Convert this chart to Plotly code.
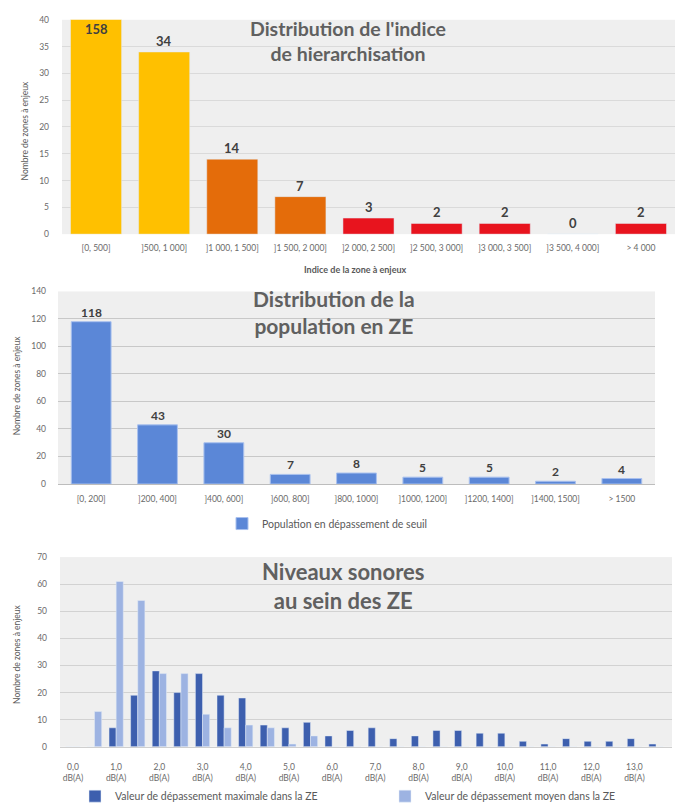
import plotly.graph_objects as go

# ---------------- data ----------------
idx_categories = ["[0, 500]", "]500, 1 000]", "]1 000, 1 500]", "]1 500, 2 000]",
                  "]2 000, 2 500]", "]2 500, 3 000]", "]3 000, 3 500]", "]3 500, 4 000]", "> 4 000"]
idx_values = [158, 34, 14, 7, 3, 2, 2, 0, 2]

pop_categories = ["[0, 200]", "]200, 400]", "]400, 600]", "]600, 800]", "]800, 1000]",
                  "]1000, 1200]", "]1200, 1400]", "]1400, 1500]", "> 1500"]
pop_values = [118, 43, 30, 7, 8, 5, 5, 2, 4]

db_levels = [0.0, 0.5, 1.0, 1.5, 2.0, 2.5, 3.0, 3.5, 4.0, 4.5, 5.0, 5.5, 6.0, 6.5,
             7.0, 7.5, 8.0, 8.5, 9.0, 9.5, 10.0, 10.5, 11.0, 11.5, 12.0, 12.5, 13.0, 13.5]
db_max = [0, 0, 7, 19, 28, 20, 27, 19, 18, 8, 7, 9, 4, 6,
          7, 3, 4, 6, 6, 5, 5, 2, 1, 3, 2, 2, 3, 1]
db_moy = [0, 13, 61, 54, 27, 27, 12, 7, 8, 7, 1, 4, 0, 0,
          0, 0, 0, 0, 0, 0, 0, 0, 0, 0, 0, 0, 0, 0]
db_tick_values = [0, 1, 2, 3, 4, 5, 6, 7, 8, 9, 10, 11, 12, 13]
db_tick_labels = ["0,0<br>dB(A)", "1,0<br>dB(A)", "2,0<br>dB(A)", "3,0<br>dB(A)", "4,0<br>dB(A)",
                  "5,0<br>dB(A)", "6,0<br>dB(A)", "7,0<br>dB(A)", "8,0<br>dB(A)", "9,0<br>dB(A)",
                  "10,0<br>dB(A)", "11,0<br>dB(A)", "12,0<br>dB(A)", "13,0<br>dB(A)"]

# ---------------- styling ----------------
W, H = 675, 812
FONT = "Lato, 'Open Sans', sans-serif"
TICK = dict(family=FONT, size=8.5, color="#6a6a6a")


def px(x):
    return x / W


def py(y):
    return 1 - y / H


idx_colors = ["#FFC000", "#FFC000", "#E46C0A", "#E46C0A", "#E8141E",
              "#E8141E", "#E8141E", "#E8141E", "#E8141E"]

fig = go.Figure()

fig.add_trace(go.Bar(x=idx_categories, y=idx_values, marker_color=idx_colors,
                     width=0.75, offset=-0.375, showlegend=False,
                     xaxis="x", yaxis="y"))
fig.add_trace(go.Bar(x=pop_categories, y=pop_values, marker_color="#5B87D7",
                     marker_line=dict(color="#A9C1EE", width=1),
                     width=0.6, offset=-0.3, name="Population en dépassement de seuil",
                     legend="legend", xaxis="x2", yaxis="y2"))
fig.add_trace(go.Bar(x=db_levels, y=db_max, marker_color="#3D5FAE",
                     width=0.165, offset=-0.165,
                     name="Valeur de dépassement maximale dans la ZE",
                     legend="legend2", xaxis="x3", yaxis="y3"))
fig.add_trace(go.Bar(x=db_levels, y=db_moy, marker_color="#9DB3E2",
                     width=0.165, offset=0.0,
                     name="Valeur de dépassement moyen dans la ZE",
                     legend="legend3", xaxis="x3", yaxis="y3"))

annotations = []
IDX_MAX = 40
LBL1 = dict(family=FONT, size=13, color="#404040", weight="bold")
for c, v in zip(idx_categories, idx_values):
    if v > IDX_MAX:
        annotations.append(dict(x=c, y=IDX_MAX, xref="x", yref="y", text=str(v), showarrow=False,
                                yanchor="top", yshift=1, font=LBL1))
    else:
        annotations.append(dict(x=c, y=v, xref="x", yref="y", text=str(v), showarrow=False,
                                yanchor="bottom", yshift=1, font=LBL1))
for c, v in zip(pop_categories, pop_values):
    annotations.append(dict(x=c, y=v, xref="x2", yref="y2", text=str(v), showarrow=False,
                            yanchor="bottom", yshift=0,
                            font=dict(family=FONT, size=12, color="#404040", weight="bold")))

AX = dict(family=FONT, size=8.5, color="#595959")
annotations += [
    dict(x=px(348), y=py(36), xref="paper", yref="paper", showarrow=False, align="center",
         xanchor="center", yanchor="middle",
         text="Distribution de l'indice<br>de hierarchisation",
         font=dict(family=FONT, size=19.5, color="#606060", weight="bold")),
    dict(x=px(334), y=py(311), xref="paper", yref="paper", showarrow=False, align="center",
         xanchor="center", yanchor="middle",
         text="Distribution de la<br>population en ZE",
         font=dict(family=FONT, size=21, color="#606060", weight="bold")),
    dict(x=px(343), y=py(588), xref="paper", yref="paper", showarrow=False, align="center",
         xanchor="center", yanchor="middle",
         text="Niveaux sonores<br>au sein des ZE",
         font=dict(family=FONT, size=22, color="#606060", weight="bold")),
    dict(x=px(25), y=py(127), xref="paper", yref="paper", showarrow=False, textangle=-90,
         xanchor="center", yanchor="middle", text="Nombre de zones à enjeux", font=AX),
    dict(x=px(17), y=py(385), xref="paper", yref="paper", showarrow=False, textangle=-90,
         xanchor="center", yanchor="middle", text="Nombre de zones à enjeux", font=AX),
    dict(x=px(17), y=py(657), xref="paper", yref="paper", showarrow=False, textangle=-90,
         xanchor="center", yanchor="middle", text="Nombre de zones à enjeux", font=AX),
    dict(x=px(355), y=py(268), xref="paper", yref="paper", showarrow=False,
         xanchor="center", yanchor="middle", text="Indice de la zone à enjeux",
         font=dict(family=FONT, size=9, color="#595959", weight="bold")),
]

LEG = dict(family=FONT, size=10.5, color="#595959")
fig.update_layout(
    width=W, height=H,
    margin=dict(l=0, r=0, t=0, b=0),
    paper_bgcolor="white",
    plot_bgcolor="#EFEFEF",
    barmode="overlay",
    font=dict(family=FONT, color="#595959"),
    annotations=annotations,
    xaxis=dict(domain=[px(62), px(675)], anchor="y", type="category", showgrid=False,
               ticks="", tickfont=TICK, ticklabelstandoff=7, showline=False),
    yaxis=dict(domain=[py(232), py(15)], anchor="x", range=[0, IDX_MAX], dtick=5,
               gridcolor="#DADADA", zeroline=False, ticks="", tickfont=TICK,
               ticklabelstandoff=12),
    xaxis2=dict(domain=[px(58), px(655)], anchor="y2", type="category", showgrid=False,
                ticks="", tickfont=TICK, ticklabelstandoff=7, showline=True,
                linecolor="#BDBDBD"),
    yaxis2=dict(domain=[py(485), py(290)], anchor="x2", range=[0, 140], dtick=20,
                gridcolor="#C8C8C8", zeroline=False, ticks="", tickfont=TICK,
                ticklabelstandoff=11),
    xaxis3=dict(domain=[px(60), px(672)], anchor="y3", range=[-0.3, 13.87],
                tickmode="array", tickvals=db_tick_values, ticktext=db_tick_labels,
                showgrid=False, zeroline=False, ticks="", tickfont=TICK, ticklabelstandoff=12,
                showline=True, linecolor="#CFCFCF"),
    yaxis3=dict(domain=[py(751), py(559)], anchor="x3", range=[0, 70], dtick=10,
                gridcolor="#D2D2D2", zeroline=False, ticks="", tickfont=TICK,
                ticklabelstandoff=12),
    legend=dict(orientation="h", x=px(222), y=py(525), xanchor="left", yanchor="middle",
                font=LEG, bgcolor="rgba(0,0,0,0)", itemwidth=30),
    legend2=dict(orientation="h", x=px(75), y=py(801), xanchor="left", yanchor="middle",
                 font=LEG, bgcolor="rgba(0,0,0,0)", itemwidth=30),
    legend3=dict(orientation="h", x=px(385), y=py(801), xanchor="left", yanchor="middle",
                 font=LEG, bgcolor="rgba(0,0,0,0)", itemwidth=30),
)

fig.write_html("out.html", config={"displayModeBar": False},
               post_script="document.body.style.margin='0px';")
